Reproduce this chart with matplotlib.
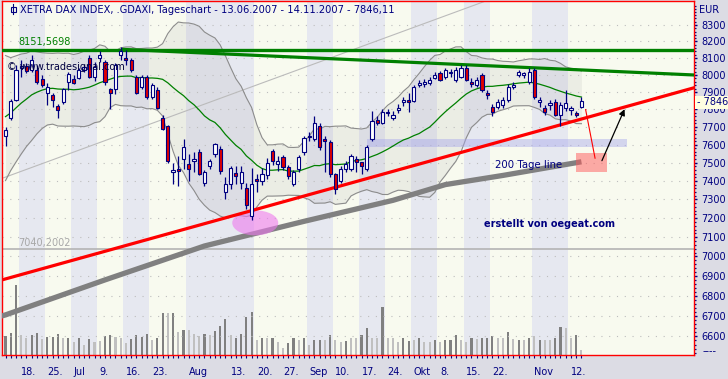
import numpy as np
import pandas as pd
import matplotlib
matplotlib.use("Agg")
import matplotlib.pyplot as plt
from matplotlib.patches import Rectangle, Ellipse
from matplotlib.ticker import FixedLocator, FixedFormatter, NullFormatter

NAVY = "#000080"
CREAM = "#F8FAEF"
STRIPE = "#E6E8F0"
OUTSIDE = "#DCDCE4"

# Xetra trading days 13.06.2007 - 14.11.2007
days = pd.bdate_range("2007-06-13", "2007-11-14")

opens = [7648, 7752, 7856, 8040, 8055, 8030, 8031, 7978, 7896, 7885,
         7821, 7845, 7960, 7978, 7984, 8030, 8100, 7990, 8100, 8078,
         7920, 7920, 8119, 8100, 8090, 7990, 7931, 7990, 7873, 7914,
         7753, 7703, 7450, 7465, 7519, 7492, 7508, 7560, 7389, 7480,
         7547, 7574, 7340, 7384, 7443, 7389, 7362, 7214, 7411, 7400,
         7430, 7563, 7495, 7530, 7476, 7384, 7465, 7558, 7650, 7630,
         7703, 7630, 7613, 7438, 7400, 7465, 7465, 7519, 7503, 7465,
         7630, 7742, 7725, 7788, 7753, 7799, 7840, 7856, 7850, 7943,
         7950, 7955, 7985, 8010, 7990, 8010, 7972, 7990, 8043, 7960,
         7943, 8001, 7897, 7815, 7815, 7827, 7856, 7931, 8001, 8001,
         7960, 8031, 7845, 7810, 7827, 7845, 7770, 7810, 7799, 7782,
         7815]
highs = [7697, 7860, 8060, 8090, 8070, 8119, 8060, 8000, 7955, 7897,
         7830, 7925, 8020, 8000, 8040, 8060, 8119, 8080, 8140, 8090,
         7925, 8070, 8165, 8151.57, 8100, 8000, 8000, 8000, 7955, 7930,
         7770, 7710, 7500, 7535, 7630, 7547, 7560, 7575, 7460, 7520,
         7610, 7590, 7420, 7480, 7480, 7480, 7390, 7470, 7440, 7470,
         7525, 7575, 7535, 7540, 7490, 7460, 7540, 7650, 7670, 7760,
         7720, 7647, 7625, 7445, 7480, 7510, 7550, 7535, 7505, 7600,
         7790, 7760, 7800, 7800, 7790, 7830, 7870, 7897, 7940, 7970,
         7975, 7990, 8015, 8025, 8040, 8035, 8045, 8060, 8060, 7980,
         7990, 8010, 7910, 7830, 7860, 7870, 7945, 7960, 8030, 8020,
         8040, 8040, 7870, 7825, 7856, 7860, 7840, 7914, 7820, 7790,
         7870]
lows = [7591, 7740, 7850, 7990, 8010, 8020, 7950, 7930, 7827, 7815,
        7753, 7830, 7914, 7950, 7975, 8020, 7985, 7965, 8080, 7943,
        7800, 7890, 8090, 8060, 8020, 7890, 7920, 7860, 7860, 7800,
        7680, 7500, 7384, 7373, 7465, 7400, 7450, 7430, 7370, 7465,
        7530, 7440, 7300, 7357, 7384, 7357, 7250, 7190, 7340, 7380,
        7410, 7490, 7455, 7460, 7410, 7370, 7450, 7545, 7620, 7620,
        7570, 7449, 7420, 7330, 7390, 7450, 7455, 7449, 7438, 7455,
        7620, 7710, 7715, 7760, 7740, 7780, 7820, 7788, 7840, 7930,
        7930, 7940, 7975, 7965, 7975, 7990, 7960, 7980, 7965, 7930,
        7930, 7900, 7860, 7760, 7800, 7810, 7845, 7920, 7990, 7985,
        7950, 7860, 7815, 7770, 7799, 7760, 7703, 7790, 7770, 7755,
        7810]
closes = [7682, 7848, 8031, 8055, 8025, 8090, 7960, 7943, 7931, 7856,
          7799, 7920, 8007, 7955, 8031, 8048, 7990, 8048, 8119, 7960,
          7897, 8060, 8140, 8090, 8031, 7897, 7990, 7873, 7943, 7810,
          7686, 7508, 7460, 7455, 7585, 7465, 7519, 7440, 7449, 7508,
          7602, 7455, 7384, 7470, 7427, 7449, 7270, 7384, 7400, 7440,
          7500, 7508, 7508, 7476, 7427, 7449, 7530, 7640, 7646, 7725,
          7585, 7619, 7438, 7357, 7465, 7492, 7535, 7503, 7481, 7585,
          7731, 7725, 7788, 7782, 7770, 7810, 7856, 7845, 7931, 7955,
          7960, 7972, 8001, 7972, 8031, 8015, 8031, 8043, 7972, 7950,
          7972, 7914, 7885, 7788, 7845, 7856, 7931, 7943, 8015, 8010,
          8020, 7873, 7856, 7788, 7839, 7770, 7827, 7839, 7810, 7770,
          7846.11]
# closes before 13.06. (only used for the 20 day Bollinger band)
pre_close = [7420, 7460, 7500, 7560, 7600, 7650, 7700, 7760, 7820, 7880,
             7950, 8000, 8020, 7980, 7940, 7850, 7800, 7840, 7760]

volume = [19, 22.3, 70, 20, 16.7, 20, 22.3, 16, 18.3, 18.3,
          21, 16.7, 17.3, 13.3, 16.7, 10, 16, 13.3, 14, 19,
          20, 18.3, 17.3, 12.3, 16, 20, 18.3, 21, 15, 17.3,
          42.3, 42.3, 42.3, 23.3, 25, 25, 20.7, 19, 21, 20,
          24, 29, 35.7, 20, 16.7, 21, 38.3, 43, 15, 16.7,
          16.7, 16.7, 13.3, 6.7, 11.7, 16.7, 15, 16.7, 10, 15,
          15, 15, 20, 15, 13.3, 14, 16.7, 16.7, 20, 26.7,
          16.7, 16.7, 48.3, 16.7, 16.7, 13.3, 16.7, 14, 15, 16.7,
          13.3, 13.3, 15, 13.3, 15, 15, 20, 15, 13.3, 17.3,
          15.7, 17.3, 17.3, 19, 17.3, 17.3, 23.3, 15.7, 15, 15,
          17.3, 19, 15, 15, 15, 17.3, 28.3, 26.7, 16.7, 20,
          5]
vol_dark = [1, 1, 1, 0, 0, 1, 1, 0, 1, 1,
            1, 0, 1, 0, 1, 0, 1, 0, 0, 1,
            1, 0, 0, 0, 1, 1, 1, 1, 0, 1,
            1, 0, 1, 0, 1, 0, 0, 0, 1, 0,
            1, 1, 1, 0, 1, 1, 1, 1, 0, 1,
            0, 1, 0, 0, 1, 1, 0, 1, 0, 1,
            1, 0, 1, 0, 0, 1, 0, 0, 1, 1,
            0, 0, 1, 0, 0, 0, 1, 1, 0, 1,
            0, 0, 1, 0, 1, 1, 1, 0, 0, 1,
            0, 1, 1, 1, 0, 0, 1, 0, 1, 0,
            1, 0, 1, 0, 0, 1, 1, 0, 0, 1,
            0]

# 200 day line, read at a few days
ma200_idx = [-1, 0, 19, 38, 57, 74, 84, 95, 110]
ma200 = [6698, 6705, 6880, 7054, 7183, 7295, 7380, 7430, 7505]

# drawn lines / levels
high_level = 8151.5698
low_level = 7040.2002
res_pts = ([23, 110], [8151.57, 8030])
sup_pts = ([0, 110], [6885, 7745])
thin_pts = ([0, 67], [7421, 8158])

tick_idx = [3, 8, 13, 18, 23, 28, 35, 43, 48, 53, 58, 63, 68, 73, 78, 83, 88, 93, 101, 108]
tick_lab = ["18.", "25.", "Jul", "9.", "16.", "23.", "Aug", "13.", "20.", "27.",
            "Sep", "10.", "17.", "24.", "Okt", "8.", "15.", "22.", "Nov", "12."]
stripe_starts = [0, 3, 8, 13, 18, 23, 28, 35, 48, 58, 63, 68, 73, 78, 83, 88, 93, 101, 108]

n = len(days)
x = np.arange(n)
W, H = 728, 379


def fx(px):
    return px / W


def fy(py):
    return 1 - py / H


def log_line(pts, x0, x1):
    (xa, xb), (pa, pb) = pts
    k = (np.log(pb) - np.log(pa)) / (xb - xa)
    xs = np.array([x0, x1])
    return xs, np.exp(np.log(pa) + k * (xs - xa))


fig = plt.figure(figsize=(7.28, 3.79), dpi=100, facecolor=OUTSIDE)
ax = fig.add_axes([fx(2), fy(355), 692 / W, 354 / H])
axv = ax.twinx()
ax.set_zorder(axv.get_zorder() + 1)
ax.patch.set_visible(False)
axv.patch.set_visible(True)
axv.patch.set_facecolor(CREAM)

XMIN, XMAX = -0.67, 131.5
ax.set_xlim(XMIN, XMAX)
ax.set_yscale("log")
ax.set_ylim(6510, 8448)
axv.set_ylim(0, 354)

# background stripes
bounds = stripe_starts + [n]
for k in range(len(stripe_starts)):
    col = CREAM if k % 2 == 0 else STRIPE
    axv.axvspan(bounds[k] - 0.5, bounds[k + 1] - 0.5, color=col, lw=0, zorder=0)

# volume
vcols = ["#808080" if d else "#C0C0C0" for d in vol_dark]
axv.bar(x, volume, width=0.4, color=vcols, zorder=2)
axv.yaxis.set_visible(False)
axv.xaxis.set_visible(False)
for s in axv.spines.values():
    s.set_visible(False)

# Bollinger band (20, 2)
allc = pd.Series(pre_close + closes)
mid = allc.rolling(20).mean().values[len(pre_close):]
sd = allc.rolling(20).std(ddof=0).values[len(pre_close):]
upper, lower = mid + 2 * sd, mid - 2 * sd
ax.fill_between(x, lower, upper, color="#9A9A9A", alpha=0.13, lw=0, zorder=1)
ax.plot(x, upper, color="#8C8C8C", lw=0.8, zorder=3)
ax.plot(x, lower, color="#8C8C8C", lw=0.8, zorder=3)

# grid
for lv in range(6600, 8400, 100):
    ax.axhline(lv, color="#BDBDBD", lw=0.8, ls=(0, (1, 6)), zorder=1)

# levels and trend lines
ax.axhline(low_level, color="#B4B4B4", lw=1.2, zorder=2)
xs, ys = log_line(thin_pts, XMIN, 110)
ax.plot(xs, ys, color="#BBBBBB", lw=0.8, zorder=2)
ax.plot(ma200_idx, ma200, color="#808080", lw=3.8, zorder=3, solid_capstyle="butt")
ax.axhline(high_level, color="#008000", lw=2.4, zorder=4)
xs, ys = log_line(res_pts, 22.5, XMAX)
ax.plot(xs, ys, color="#008000", lw=2.3, zorder=4)

# pink marker ellipse at the August low
cx, cy = (ax.transData + ax.transAxes.inverted()).transform((47.7, 7175))
ax.add_patch(Ellipse((cx, cy), 46 / 692, 25 / 354, transform=ax.transAxes,
                     facecolor="#EE7AEE", alpha=0.6, lw=0, zorder=4))

xs, ys = log_line(sup_pts, XMIN, XMAX)
ax.plot(xs, ys, color="#FF0000", lw=2.3, zorder=5)

# highlight zones
ax.add_patch(Rectangle((69.0, 7585), 49.7, 7630 - 7585, facecolor="#A8A8EC",
                       alpha=0.45, lw=0, zorder=3))
ax.add_patch(Rectangle((108.96, 7447), 5.85, 7556 - 7447, facecolor="#FF5A5A",
                       alpha=0.5, lw=0, zorder=5))

# middle band
ax.plot(x, mid, color="#008000", lw=0.9, zorder=6)

# candles
for i in range(n):
    o, h, l, c = opens[i], highs[i], lows[i], closes[i]
    ax.vlines(i, l, h, color=NAVY, lw=0.9, zorder=7)
    lo, hi = min(o, c), max(o, c)
    if hi - lo < 3:
        hi = lo * 1.0006
    face = "#E00000" if c < o else "#FFFFFF"
    ax.add_patch(Rectangle((i - 0.3, lo), 0.6, hi - lo, facecolor=face,
                           edgecolor=NAVY, lw=0.8, zorder=8))

# arrows
ax.plot([110.8, 112.6], [7799, 7525], color="#FF0000", lw=0.8, zorder=9)
ax.annotate("", xy=(118.45, 7816), xytext=(113.7, 7497),
            arrowprops=dict(arrowstyle="-|>", color="black", lw=0.9,
                            mutation_scale=9), zorder=9)

# axes styling
for s in ax.spines.values():
    s.set_color("#FF0000")
    s.set_linewidth(1.0)
ax.yaxis.set_ticks_position("right")
ax.yaxis.set_major_locator(FixedLocator(list(range(6600, 8400, 100))))
ax.yaxis.set_major_formatter(FixedFormatter([str(v) for v in range(6600, 8400, 100)]))
ax.yaxis.set_minor_locator(FixedLocator(list(range(6520, 8440, 20))))
ax.yaxis.set_minor_formatter(NullFormatter())
ax.tick_params(axis="y", which="major", direction="out", length=2.5, width=1,
               color=NAVY, labelcolor=NAVY, labelsize=7, pad=2.5)
ax.tick_params(axis="y", which="minor", direction="out", length=1.2, width=0.9, color=NAVY)

ax.set_xticks(tick_idx)
ax.set_xticklabels(tick_lab, ha="left")
ax.set_xticks(x, minor=True)
ax.tick_params(axis="x", which="both", direction="out", length=2, width=0.8,
               color=NAVY, labelcolor=NAVY, labelsize=7, pad=6.5)

# texts
fig.text(fx(20), fy(10), "XETRA DAX INDEX, .GDAXI, Tageschart - 13.06.2007 - 14.11.2007 - 7846,11",
         color=NAVY, fontsize=7.1, va="center", ha="left")
fig.add_artist(Rectangle((fx(10.5), fy(11.5)), 5 / W, 5 / H, transform=fig.transFigure,
                         facecolor="none", edgecolor=NAVY, lw=0.8))
fig.add_artist(plt.Line2D([fx(13), fx(13)], [fy(4), fy(14)], transform=fig.transFigure,
                          color=NAVY, lw=0.8))
fig.text(fx(18), fy(42.5), "8151,5698", color="#008000", fontsize=7, va="center")
fig.text(fx(18), fy(243), "7040,2002", color="#A8A8A8", fontsize=7, va="center")
fig.text(fx(7), fy(67), "\u00a9 www.tradesignal.com", color="#000040", fontsize=7, va="center")
fig.text(fx(495), fy(165), "200 Tage line", color=NAVY, fontsize=7.3, va="center")
fig.text(fx(484), fy(224), "erstellt von oegeat.com", color=NAVY, fontsize=7,
         fontweight="bold", va="center")
fig.text(fx(699), fy(10), "EUR", color=NAVY, fontsize=7, va="center")
fig.text(fx(697), fy(102.3), "- 7846", color=NAVY, fontsize=7, va="center",
         bbox=dict(facecolor="#FFFFE1", edgecolor="none", pad=1.2))
fig.text(fx(703), fy(351.5), "----", color=NAVY, fontsize=7, va="center")

fig.savefig("out.png", dpi=100, facecolor=OUTSIDE)
